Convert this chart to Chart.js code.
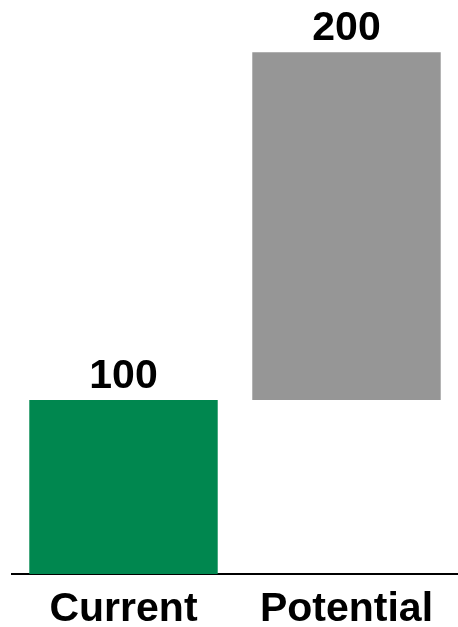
<!DOCTYPE html>
<html><head><meta charset="utf-8">
<script src="https://cdn.jsdelivr.net/npm/chart.js@4"></script>
<style>html,body{margin:0;padding:0;background:#fff}canvas{display:block}</style>
</head><body>
<canvas id="c" width="458" height="627"></canvas>
<script>
const categories = ['Current', 'Potential'];
const values = [100, 200];
const bases = [0, 100];
const colors = ['#00874f', '#969696'];

const FONT = 'bold 41px "Liberation Sans", Arial, sans-serif';

const valueLabels = {
  id: 'valueLabels',
  afterDatasetsDraw(chart) {
    const ctx = chart.ctx;
    const meta = chart.getDatasetMeta(0);
    ctx.save();
    ctx.font = FONT;
    ctx.fillStyle = '#000';
    ctx.textAlign = 'center';
    ctx.textBaseline = 'alphabetic';
    meta.data.forEach((bar, i) => {
      ctx.fillText(String(values[i]), bar.x, bar.y - 12);
    });
    ctx.restore();
  }
};

new Chart(document.getElementById('c'), {
  type: 'bar',
  data: {
    labels: categories,
    datasets: [{
      data: bases.map((b, i) => [b, b + values[i]]),
      backgroundColor: colors,
      borderWidth: 0,
      barPercentage: 0.845,
      categoryPercentage: 1
    }]
  },
  options: {
    responsive: false,
    animation: false,
    layout: { padding: { left: 12, right: 0, top: 0, bottom: 0 } },
    plugins: { legend: { display: false }, tooltip: { enabled: false } },
    scales: {
      x: {
        grid: { display: false, drawTicks: false },
        border: { display: true, color: '#000', width: 2 },
        ticks: { color: '#000', font: { family: '"Liberation Sans", Arial, sans-serif', size: 41, weight: 'bold' }, padding: 11 },
        afterFit(scale) { scale.height = 53; }
      },
      y: {
        display: false,
        min: 0,
        max: 330
      }
    }
  },
  plugins: [valueLabels]
});
</script>
</body></html>
